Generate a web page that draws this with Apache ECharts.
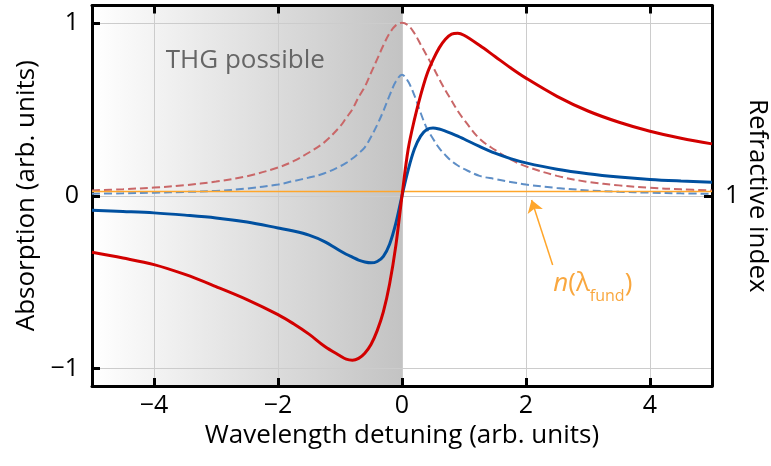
<!DOCTYPE html>
<html><head><meta charset="utf-8">
<script src="https://cdn.jsdelivr.net/npm/echarts@6/dist/echarts.min.js"></script>
<style>html,body{margin:0;padding:0;background:#fff}#c{width:771px;height:466px}</style>
</head><body><div id="c"></div>
<script>
// ---- data ----
const detuning = [-5,-4.5,-4,-3.5,-3,-2.5,-2,-1.75,-1.5,-1.25,
                  -1,-0.9,-0.8,-0.7,-0.6,-0.5,-0.4,-0.3,-0.2,-0.1,0,
                  0.1,0.2,0.3,0.4,0.5,0.6,0.7,0.8,0.9,1,
                  1.25,1.5,1.75,2,2.5,3,3.5,4,4.5,5];
const absorptionStrong = [0.031,0.038,0.047,0.061,0.082,0.113,0.163,0.2,0.25,0.31,
                  0.40,0.45,0.50,0.57,0.63,0.71,0.79,0.87,0.94,0.985,1.0,
                  0.985,0.94,0.875,0.81,0.745,0.675,0.61,0.55,0.49,0.44,
                  0.33,0.265,0.21,0.17,0.115,0.08,0.06,0.046,0.037,0.03];
const absorptionWeak = [0.012,0.014,0.018,0.022,0.028,0.042,0.065,0.085,0.105,0.13,
                  0.17,0.19,0.215,0.245,0.28,0.34,0.41,0.49,0.58,0.66,0.70,
                  0.66,0.58,0.48,0.39,0.33,0.275,0.235,0.20,0.175,0.155,
                  0.115,0.097,0.08,0.065,0.045,0.031,0.023,0.018,0.014,0.011];
const indexStrong = [-0.327,-0.36,-0.398,-0.455,-0.525,-0.60,-0.687,-0.74,-0.80,-0.87,
                  -0.925,-0.945,-0.951,-0.94,-0.91,-0.86,-0.78,-0.67,-0.51,-0.29,0.0,
                  0.27,0.44,0.58,0.70,0.785,0.855,0.905,0.935,0.94,0.928,
                  0.87,0.805,0.74,0.68,0.575,0.49,0.425,0.373,0.333,0.30];
const indexWeak = [-0.084,-0.091,-0.099,-0.112,-0.128,-0.152,-0.186,-0.204,-0.228,-0.265,
                  -0.318,-0.338,-0.355,-0.372,-0.383,-0.388,-0.38,-0.35,-0.28,-0.16,0.0,
                  0.15,0.27,0.345,0.383,0.392,0.386,0.374,0.36,0.345,0.328,
                  0.285,0.246,0.215,0.19,0.153,0.127,0.108,0.094,0.085,0.078];
const fundX = [-5, 5];
const fundLevel = [0.025, 0.025];
const xTicks = [-4, -2, 0, 2, 4];
const yTicks = [-1, 0, 1];
const rightTicks = [1];
const shadeRange = [-5, 0];
const arrowFrom = [2.43, -0.40];
const arrowTo = [2.09, -0.025];
const shadeLabel = 'THG possible';
const shadeLabelAt = [-3.81, 0.78];
const fundLabelAt = [2.44, -0.51];
const rightTitle = 'Refractive index';

// ---- chart ----
const chart = echarts.init(document.getElementById('c'), null, {renderer: 'canvas'});
const font = '"Open Sans", "Noto Sans", sans-serif';
const fmt = v => v < 0 ? '\u2212' + Math.abs(v) : String(v);
const pairs = ys => detuning.map((x, i) => [x, ys[i]]);
const frame = {show: true, onZero: false, lineStyle: {color: '#000', width: 3}};
const tick = vals => ({show: true, inside: true, length: 8, customValues: vals, lineStyle: {color: '#000', width: 3}});
const grid = {show: true, lineStyle: {color: '#cccccc', width: 1}};
const lineBase = {type: 'line', showSymbol: false, smooth: 0.35, silent: true, z: 3};
const titleStyle = {fontSize: 26, color: '#000', fontFamily: font};

chart.setOption({
  animation: false,
  grid: {left: 92, right: 59, top: 5.5, bottom: 80, containLabel: false, outerBoundsMode: 'none'},
  xAxis: [
    {type: 'value', min: -5, max: 5, position: 'bottom', z: 1,
     axisLine: frame, axisTick: tick(xTicks),
     axisLabel: {customValues: xTicks, formatter: fmt, fontSize: 25, color: '#000', fontFamily: font, margin: 7},
     splitLine: grid,
     name: 'Wavelength detuning (arb. units)', nameLocation: 'middle', nameGap: 37,
     nameTextStyle: titleStyle},
    {type: 'value', min: -5, max: 5, position: 'top', z: 1,
     axisLine: frame, axisTick: tick(xTicks), axisLabel: {show: false}, splitLine: {show: false}}
  ],
  yAxis: [
    {type: 'value', min: -1.1, max: 1.1, position: 'left', z: 1,
     axisLine: frame, axisTick: tick(yTicks),
     axisLabel: {customValues: yTicks, formatter: fmt, fontSize: 25, color: '#000', fontFamily: font, margin: 13},
     splitLine: grid,
     name: 'Absorption (arb. units)', nameLocation: 'middle', nameGap: 49,
     nameTextStyle: titleStyle},
    {type: 'value', min: -0.1, max: 2.1, position: 'right', z: 1,
     axisLine: frame, axisTick: tick(rightTicks),
     axisLabel: {customValues: rightTicks, fontSize: 25, color: '#000', fontFamily: font, margin: 13},
     splitLine: {show: false}}
  ],
  series: [
    {type: 'line', data: [], z: 0, silent: true,
     markArea: {silent: true, z: 0,
       itemStyle: {color: new echarts.graphic.LinearGradient(0, 0, 1, 0, [
         {offset: 0, color: '#ffffff'}, {offset: 1, color: '#c3c3c3'}])},
       data: [[{xAxis: shadeRange[0]}, {xAxis: shadeRange[1]}]]}},
    Object.assign({}, lineBase, {name: 'absStrong', data: pairs(absorptionStrong),
      lineStyle: {color: '#C96768', width: 2, type: [8, 4]}}),
    Object.assign({}, lineBase, {name: 'absWeak', data: pairs(absorptionWeak),
      lineStyle: {color: '#5E8EC6', width: 2, type: [8, 4]}}),
    {type: 'line', name: 'fund', showSymbol: false, silent: true, z: 3,
     data: fundX.map((x, i) => [x, fundLevel[i]]),
     lineStyle: {color: '#FFA62B', width: 1.5},
     markLine: {silent: true, symbol: ['none', 'arrow'], symbolSize: 12, animation: false,
       lineStyle: {color: '#FFA62B', width: 1.5, type: 'solid'}, label: {show: false},
       data: [[{coord: arrowFrom}, {coord: arrowTo}]]}},
    Object.assign({}, lineBase, {name: 'idxWeak', data: pairs(indexWeak),
      lineStyle: {color: '#0050A0', width: 3}}),
    Object.assign({}, lineBase, {name: 'idxStrong', data: pairs(indexStrong),
      lineStyle: {color: '#D20000', width: 3}})
  ]
});

const p1 = chart.convertToPixel({gridIndex: 0}, shadeLabelAt);
const p2 = chart.convertToPixel({gridIndex: 0}, fundLabelAt);
const gridRect = chart.getModel().getComponent('grid', 0).coordinateSystem.getRect();
chart.setOption({
  graphic: [
    {type: 'text', x: p1[0], y: p1[1], z: 10, silent: true,
     style: {text: shadeLabel, fill: '#666666', font: '26px ' + font, verticalAlign: 'middle', align: 'left'}},
    {type: 'text', x: p2[0], y: p2[1], z: 10, silent: true,
     style: {text: '{i|n}{r|(λ}{s|fund}{r|)}', verticalAlign: 'middle', align: 'left',
       rich: {
         i: {fontSize: 26, fontStyle: 'italic', fill: '#F9A73E', fontFamily: font, verticalAlign: 'bottom'},
         r: {fontSize: 26, fill: '#F9A73E', fontFamily: font, verticalAlign: 'bottom'},
         s: {fontSize: 16, fill: '#F9A73E', fontFamily: font, verticalAlign: 'bottom', padding: [0, 0, -7, 0]}
       }}},
    {type: 'text', x: gridRect.x + gridRect.width + 45, y: gridRect.y + gridRect.height / 2,
     rotation: -Math.PI / 2, z: 10, silent: true,
     style: {text: rightTitle, fill: '#000', font: '26px ' + font, align: 'center', verticalAlign: 'middle'}}
  ]
});
</script>
</body></html>
